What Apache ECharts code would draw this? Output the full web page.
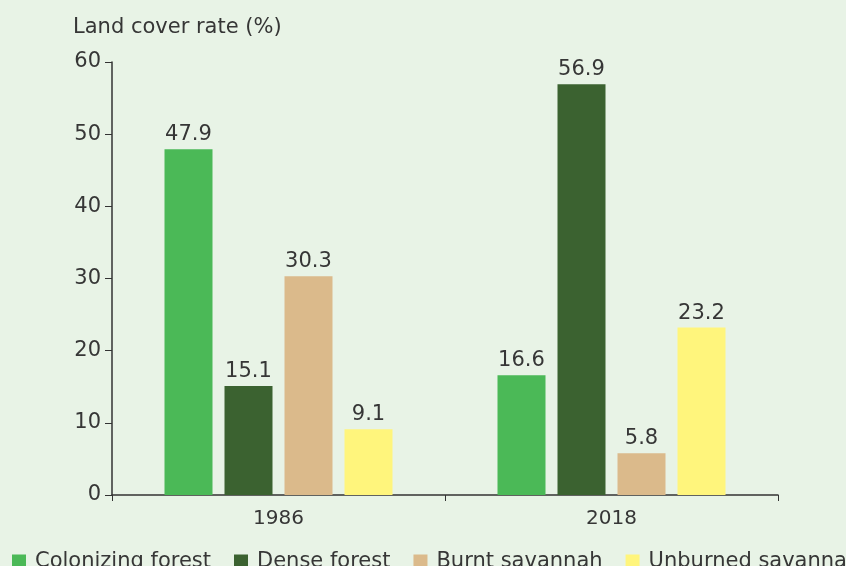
<!DOCTYPE html>
<html>
<head>
<meta charset="utf-8">
<script src="https://cdn.jsdelivr.net/npm/echarts@6/dist/echarts.min.js"></script>
<style>
  html, body { margin: 0; padding: 0; background: #e8f3e6; }
  #main { width: 846px; height: 566px; }
</style>
</head>
<body>
<div id="main"></div>
<script>
// data
var years = ['1986', '2018'];
var colonizing = [47.9, 16.6];
var dense = [15.1, 56.9];
var burnt = [30.3, 5.8];
var unburned = [9.1, 23.2];
var yTicks = [0, 10, 20, 30, 40, 50, 60];

var font = 'DejaVu Sans';
var textColor = '#363636';

//一个系列的公共设置
function makeSeries(name, values, color) {
    return {
        name: name,
        type: 'bar',
        data: values,
        barWidth: 48,
        barGap: '25%',
        itemStyle: { color: color },
        label: {
            show: true,
            position: 'top',
            distance: 4,
            color: textColor,
            fontFamily: font,
            fontSize: 21
        }
    };
}

var chart = echarts.init(document.getElementById('main'));
chart.setOption({
    backgroundColor: '#e8f3e6',
    animation: false,
    title: {
        text: 'Land cover rate (%)',
        left: 68,
        top: 12,
        textStyle: { color: textColor, fontFamily: font, fontSize: 21, fontWeight: 'normal' }
    },
    legend: {
        left: 7,
        top: 546,
        width: 1200,
        itemWidth: 14,
        itemHeight: 14,
        itemGap: 23,
        icon: 'rect',
        textStyle: { color: textColor, fontFamily: font, fontSize: 21, padding: [0, 0, 0, 4] }
    },
    grid: { left: 112, right: 68, top: 62, bottom: 71, containLabel: false },
    xAxis: {
        type: 'category',
        data: years,
        axisLine: { lineStyle: { color: '#333', width: 1.5 } },
        axisTick: { show: true, length: 6, lineStyle: { color: '#333' } },
        axisLabel: { color: textColor, fontFamily: font, fontSize: 20, margin: 14 }
    },
    yAxis: {
        type: 'value',
        min: yTicks[0],
        max: yTicks[yTicks.length - 1],
        interval: 10,
        axisLine: { show: true, lineStyle: { color: '#333', width: 1.5 } },
        axisTick: { show: true, length: 7, lineStyle: { color: '#333' } },
        splitLine: { show: false },
        axisLabel: { color: textColor, fontFamily: font, fontSize: 21, margin: 11 }
    },
    series: [
        makeSeries('Colonizing forest', colonizing, '#4bb957'),
        makeSeries('Dense forest', dense, '#3b6230'),
        makeSeries('Burnt savannah', burnt, '#dbba8b'),
        makeSeries('Unburned savannah', unburned, '#fff57c')
    ]
});
</script>
</body>
</html>
